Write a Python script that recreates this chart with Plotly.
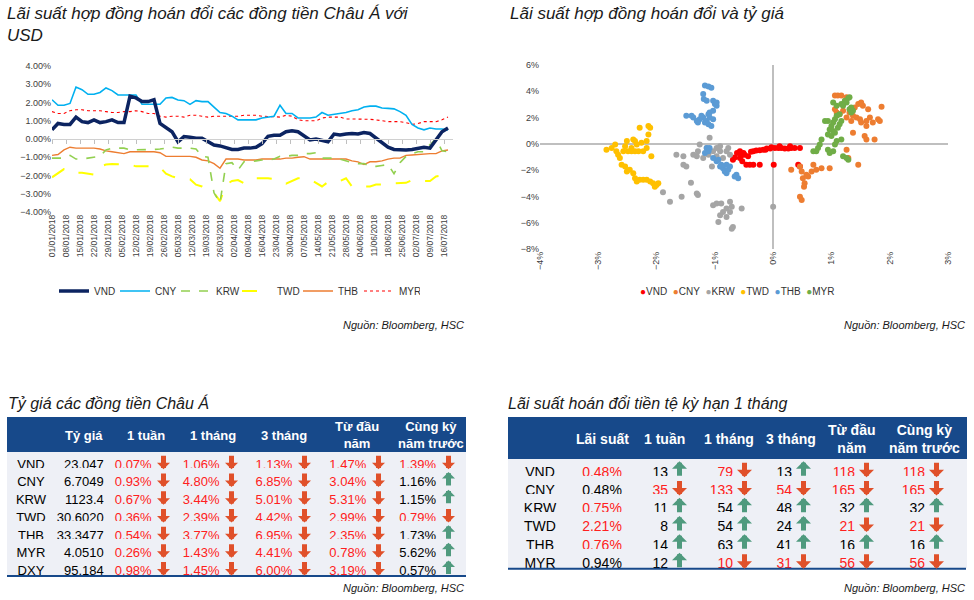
import pandas as pd
import plotly.graph_objects as go

# ---- line chart: swap rates vs USD (%), one value every 3 days from 01/01/2018
dates = pd.date_range("2018-01-01", periods=67, freq="3D")
vnd = [0.5, 0.85, 0.8, 0.8, 1.2, 0.95, 0.9, 1.05, 0.9, 0.95,
       1.05, 0.9, 0.9, 2.35, 2.25, 2.05, 2.05, 2.15, 0.85, 0.6,
       0.4, -0.15, 0.13, 0.1, 0.04, 0.04, -0.15, -0.33, -0.38, -0.5,
       -0.57, -0.57, -0.5, -0.5, -0.45, -0.25, 0.15, 0.2, 0.2, 0.4,
       0.45, 0.4, 0.15, -0.05, 0.0, -0.1, -0.15, 0.27, 0.22, 0.27,
       0.3, 0.27, 0.35, 0.3, 0.05, -0.15, -0.45, -0.57, -0.6, -0.6,
       -0.57, -0.5, -0.45, -0.5, -0.05, 0.4, 0.6]
cny = [2.15, 1.85, 1.85, 1.95, 2.85, 2.7, 2.45, 2.45, 2.55, 2.8,
       2.65, 2.41, 2.41, 2.41, 2.41, 1.9, 1.9, 1.9, 1.9, 2.25,
       2.28, 2.14, 2.1, 1.9, 2.1, 2.05, 2.05, 1.75, 1.45, 1.4,
       1.25, 1.05, 1.05, 1.05, 1.05, 1.15, 1.2, 1.25, 1.85, 1.4,
       1.4, 1.15, 1.15, 1.15, 1.2, 1.45, 1.3, 1.35, 1.4, 1.45,
       1.55, 1.6, 1.75, 1.8, 1.8, 1.7, 1.68, 1.65, 1.5, 1.3,
       0.8, 0.6, 0.5, 0.6, 0.55, 0.55, 0.5]
krw = [-1.05, -1.05, -1.05, -0.9, -1.1, -1.1, -1.05, -0.97, -0.95, -0.6,
       -0.5, -0.5, -0.5, -0.6, -0.6, -0.57, -0.57, -0.57, -0.55, -0.5,
       -0.45, -0.5, -0.5, -0.5, -0.55, -0.95, -1.0, -2.95, -3.5, -1.35,
       -1.3, -1.7, -1.25, -1.25, -1.2, -1.15, -1.15, -1.1, -0.95, -0.95,
       -0.9, -0.9, -0.8, -0.8, -0.75, -1.05, -1.05, -1.05, -1.1, -1.2,
       -1.3, -1.35, -1.35, -1.5, -1.5, -1.45, -1.4, -1.9, -1.3, -0.95,
       -0.8, -0.7, -0.7, -0.3, 0.0, -0.65, -0.7]
twd = [-2.1, -1.85, -1.65, -1.65, -1.85, -1.85, -1.88, -1.95, -1.5, -1.4,
       -1.37, -1.37, -1.37, -1.4, -1.5, -1.5, -1.5, -1.5, -1.55, -1.9,
       -2.05, -2.15, -2.15, -2.2, -2.5, -2.6, -2.75, -2.95, -3.4, -2.5,
       -2.3, -2.25, -2.43, -2.2, -2.15, -2.15, -2.15, -2.2, -2.35, -2.45,
       -2.3, -2.15, -2.15, -2.2, -2.4, -2.6, -2.35, -2.35, -2.3, -2.15,
       -2.6, -2.6, -2.6, -2.6, -2.5, -2.5, -2.5, -2.43, -2.43, -2.4,
       -2.25, -2.25, -2.3, -2.3, -2.05, -2.0, -1.97]
thb = [-0.9, -0.85, -0.6, -0.45, -0.5, -0.5, -0.5, -0.5, -0.55, -0.65,
       -0.7, -0.75, -0.8, -0.7, -0.7, -0.7, -0.7, -0.7, -0.75, -0.95,
       -0.95, -0.95, -0.95, -0.95, -1.0, -1.15, -1.2, -1.35, -1.6, -1.1,
       -1.1, -1.1, -1.15, -1.15, -1.15, -1.1, -1.1, -1.1, -1.1, -1.05,
       -1.05, -1.0, -0.97, -1.1, -1.1, -1.1, -1.1, -1.1, -1.1, -1.1,
       -1.2, -1.25, -1.4, -1.25, -1.25, -1.2, -1.1, -1.05, -1.05, -0.9,
       -0.88, -0.85, -0.8, -0.8, -0.8, -0.65, -0.6]
myr = [1.5, 1.4, 1.4, 1.55, 1.6, 1.6, 1.55, 1.55, 1.55, 1.5,
       1.45, 1.45, 1.5, 1.5, 1.55, 1.5, 1.4, 1.4, 1.25, 1.2,
       1.25, 1.25, 1.2, 1.3, 1.3, 1.25, 1.2, 1.25, 1.25, 1.25,
       1.25, 1.25, 1.3, 1.3, 1.3, 1.25, 1.25, 1.22, 1.2, 1.3,
       1.25, 1.05, 1.0, 1.0, 1.0, 1.15, 1.2, 1.2, 1.2, 1.1,
       1.1, 1.1, 1.08, 1.08, 1.05, 1.0, 0.95, 0.95, 0.95, 0.9,
       0.8, 0.85, 0.95, 0.95, 0.95, 1.05, 1.2]

# ---- scatter: exchange rate change (x, %) vs swap rate (y, %)
vnd_x = [-0.66, -0.69, -0.62, -0.57, -0.51, -0.57, -0.53, -0.46, -0.40, -0.34, -0.49, -0.43,
         -0.34, -0.29, -0.23, -0.17, -0.11, -0.05, 0.03, 0.09, 0.14, 0.20, 0.26, 0.31, 0.37,
         0.46, -0.23, 0.01, 0.43, 0.46, 0.29, 0.11, -0.03, -0.13, -0.38, -0.55]
vnd_y = [-1.03, -1.21, -0.69, -0.56, -0.69, -1.08, -1.33, -1.59, -1.59, -1.59, -0.82, -0.95,
         -0.56, -0.51, -0.49, -0.44, -0.36, -0.36, -0.31, -0.31, -0.31, -0.36, -0.36, -0.31, -0.31,
         -0.31, -1.59, -1.59, -1.59, -1.72, -0.18, -0.18, -0.26, -0.45, -0.60, -0.90]
cny_x = [1.06, 1.11, 1.17, 1.26, 1.09, 1.20, 1.31, 1.40, 1.46, 1.54, 1.51, 1.63, 1.37, 1.43,
         1.49, 1.60, 1.71, 1.83, 1.80, 1.86, 1.60, 1.57, 1.60, 1.74, 1.37, 1.26, 1.29, 1.46,
         1.06, 1.14, 1.26, 1.34, 1.51, 1.66, 0.31, 0.46, 0.49, 0.51, 0.54, 0.53, 0.60, 0.66,
         0.74, 0.83, 0.97, 0.69, 0.46, 0.49, 0.57]
cny_y = [3.67, 3.67, 3.67, 3.54, 2.38, 2.51, 2.38, 2.77, 3.03, 2.90, 3.15, 2.64, 2.13, 2.00,
         1.87, 1.74, 1.62, 1.74, 1.87, 2.82, 1.36, 0.59, 0.33, 0.33, 0.85, -0.44, -1.08, -1.59,
         2.64, 2.26, 2.00, 1.74, 1.62, 2.00, -1.97, -1.72, -2.10, -2.62, -3.00, -3.26, -2.49, -2.10,
         -1.97, -1.85, -1.85, -1.59, -4.03, -4.28, -2.36]
krw_x = [-1.26, -1.14, -1.29, -1.31, -1.20, -1.11, -1.09, -1.03, -0.97, -0.91, -0.86, -0.80,
         -0.77, -0.74, -1.05, -1.49, -1.54, -1.66, -1.54, -1.37, -1.41, -1.31, -1.29, -1.57,
         -1.89, -1.77, -1.03, -0.97, -0.89, -0.74, -0.71, -0.80, -0.91, -0.86, -0.80, -0.69,
         -0.71, -0.94, -0.54, -0.74, 0.00, -0.91, -0.97]
krw_y = [-0.05, -0.31, -0.56, -0.95, -1.08, -0.82, 0.46, -0.56, -0.95, -0.56, -1.08, -0.56,
         -0.31, -0.82, -1.72, -1.72, -1.59, -0.82, -0.95, -0.82, -2.95, -3.77, -3.90, -4.03,
         -3.69, -4.41, -4.67, -4.54, -4.54, -4.41, -4.79, -4.92, -5.44, -5.18, -5.56, -6.33,
         -6.46, -5.95, -4.92, -5.18, -4.79, -0.18, -0.31]
twd_x = [-2.86, -2.77, -2.71, -2.69, -2.66, -2.63, -2.60, -2.57, -2.54, -2.51, -2.49, -2.43,
         -2.40, -2.37, -2.34, -2.31, -2.29, -2.26, -2.23, -2.17, -2.14, -2.11, -2.09, -2.14,
         -2.17, -2.54, -2.51, -2.46, -2.40, -2.37, -2.34, -2.29, -2.23, -2.17, -2.11, -2.06,
         -2.03, -2.00, -1.97, -2.43, -2.37]
twd_y = [-0.44, -0.31, -0.05, -0.56, -0.82, -1.08, -1.59, -0.56, -0.18, 0.21, -0.56, -0.31,
         0.33, 0.21, -0.05, -0.56, 1.23, 0.08, -0.56, -0.31, 1.36, 1.23, -0.95, 0.72,
         0.21, -1.72, -2.10, -1.97, -2.23, -2.62, -2.87, -2.74, -2.74, -2.74, -2.87, -3.00,
         -3.26, -3.13, -3.00, -0.56, -0.56]
thb_x = [-1.17, -1.11, -1.06, -1.20, -1.19, -1.14, -1.03, -1.00, -0.97, -1.03, -1.09, -1.11,
         -1.20, -1.26, -1.31, -1.37, -1.49, -1.40, -1.29, -1.17, -1.11, -1.06, -1.14, -1.23,
         -1.09, -1.03, -0.97, -1.14, -1.11, -1.17, -1.03, -0.97, -0.91, -0.86, -0.83, -0.80,
         -0.77, -0.74, -0.80, -0.89, -0.94, -0.63, -0.60, -0.66, -1.09]
thb_y = [4.44, 4.36, 4.26, 3.79, 3.41, 3.28, 3.28, 3.03, 2.90, 2.51, 2.38, 2.26,
         2.00, 1.87, 1.74, 2.00, 2.13, 2.13, 1.62, 1.62, 1.49, 1.36, 1.74, 2.13,
         2.00, 1.87, 3.15, -0.31, -0.56, -0.69, -1.08, -1.33, -1.72, -1.85, -2.10, -2.23,
         -1.97, -1.72, -1.59, -1.59, -1.21, -2.36, -2.62, -2.49, -0.31]
myr_x = [1.03, 1.09, 1.17, 1.23, 1.29, 1.31, 1.26, 1.20, 1.31, 1.34, 1.14, 1.09, 1.06, 1.03,
         1.00, 0.97, 0.94, 1.00, 1.06, 1.11, 1.14, 1.17, 1.03, 0.94, 0.89, 0.83, 0.80, 0.74,
         0.69, 0.77, 0.94, 0.97, 1.03, 1.09, 1.06, 1.17, 1.20, 1.29, 1.26, 1.37, 1.34]
myr_y = [3.15, 2.90, 3.03, 3.28, 3.49, 3.54, 3.15, 2.90, 2.64, 2.38, 2.26, 2.13, 1.87, 1.62,
         1.36, 1.10, 0.72, 0.59, 0.85, 1.23, 1.49, 1.74, 0.97, 1.74, 1.74, 0.33, -0.05, -0.56,
         -0.56, -0.31, -0.44, -0.69, -0.56, 0.21, -0.05, 0.33, -0.95, -1.21, -1.08, 2.51, 2.77]

# ---- table 1: Asian exchange rates
t1_names = ["VND", "CNY", "KRW", "TWD", "THB", "MYR", "DXY"]
t1_rate = ["23,047", "6.7049", "1123.4", "30.6020", "33.3477", "4.0510", "95.184"]
t1_1w = ["0.07%", "0.93%", "0.67%", "0.36%", "0.54%", "0.26%", "0.98%"]
t1_1m = ["1.06%", "4.80%", "3.44%", "2.39%", "3.77%", "1.43%", "1.45%"]
t1_3m = ["1.13%", "6.85%", "5.01%", "4.42%", "6.95%", "4.41%", "6.00%"]
t1_ytd = ["1.47%", "3.04%", "5.31%", "2.99%", "2.35%", "0.78%", "3.19%"]
t1_yoy = ["1.39%", "1.16%", "1.15%", "0.79%", "1.73%", "5.62%", "0.57%"]
t1_1w_dir = ["d", "d", "d", "d", "d", "d", "d"]
t1_1m_dir = ["d", "d", "d", "d", "d", "d", "d"]
t1_3m_dir = ["d", "d", "d", "d", "d", "d", "d"]
t1_ytd_dir = ["d", "d", "d", "d", "d", "d", "d"]
t1_yoy_dir = ["d", "u", "u", "d", "u", "u", "u"]
t1_headers = ["Tỷ giá", "1 tuần", "1 tháng", "3 tháng", "Từ đầu<br>năm", "Cùng kỳ<br>năm trước"]

# ---- table 2: 1-month currency swap rates (changes in bp)
t2_names = ["VND", "CNY", "KRW", "TWD", "THB", "MYR"]
t2_rate = ["0.48%", "0.48%", "0.75%", "2.21%", "0.76%", "0.94%"]
t2_rate_red = [True, False, True, True, True, False]
t2_1w = ["13", "35", "11", "8", "14", "12"]
t2_1m = ["79", "133", "54", "54", "63", "10"]
t2_3m = ["13", "54", "48", "24", "41", "31"]
t2_ytd = ["118", "165", "32", "21", "16", "56"]
t2_yoy = ["118", "165", "32", "21", "16", "56"]
t2_1w_dir = ["u", "d", "u", "u", "u", "u"]
t2_1m_dir = ["d", "d", "u", "u", "u", "d"]
t2_3m_dir = ["u", "d", "u", "u", "u", "d"]
t2_ytd_dir = ["d", "d", "u", "d", "u", "d"]
t2_yoy_dir = ["d", "d", "u", "d", "u", "d"]
t2_headers = ["Lãi suất", "1 tuần", "1 tháng", "3 tháng", "Từ đầu<br>năm", "Cùng kỳ<br>năm trước"]

FONT = "Arial, Liberation Sans, sans-serif"
NAVY = "#17498a"
CELL_BG = "#eef0f6"
RED_TXT = "#ff2020"
ARR_DN = "#e0502a"
ARR_UP = "#4f9a7e"
W, H = 974, 600
TEXT_DY = 3   # table cell text sits a little below the row centre


def px(x):
    return x / W


def py(y):
    return 1 - y / H


def txt_colors(dirs):
    return [RED_TXT if d == "d" else "#000000" for d in dirs]


def build_table(fig, y0, edges, names, first, first_colors, first_align,
                pairs, headers, hdr_h, row_h, fsize, arr_len, arr_w):
    # edges: column boundaries in px (value / arrow column pairs after the first two)
    x0, x1 = edges[0], edges[-1]
    body_end = y0 + hdr_h + row_h * len(names)
    widths = [b - a for a, b in zip(edges[:-1], edges[1:])]
    values = [names, first]
    colors = ["#000000", first_colors]
    aligns = ["center", first_align]
    for vals, dirs in pairs:
        values += [vals, [""] * len(vals)]
        colors += [txt_colors(dirs), "#000000"]
        aligns += ["right", "left"]
    fig.add_trace(go.Table(
        domain=dict(x=[px(x0), px(x1)], y=[py(body_end + 4), py(y0)]),
        columnwidth=widths,
        header=dict(values=[""] * len(widths), fill_color=NAVY, line_color=NAVY, height=hdr_h),
        cells=dict(values=values, fill_color=CELL_BG, line_color=CELL_BG,
                   font=dict(family=FONT, size=fsize, color=colors), align=aligns, height=row_h),
    ))
    # header labels centred over their column (or value/arrow column pair)
    centres = [(edges[1] + edges[2]) / 2]
    for k in range(len(pairs)):
        centres.append((edges[2 + 2 * k] + edges[4 + 2 * k]) / 2 + 1)
    for c, h in zip(centres, headers):
        fig.add_annotation(text="<b>%s</b>" % h, x=px(c), y=py(y0 + hdr_h / 2 + 1), xref="paper",
                           yref="paper", showarrow=False, xanchor="center", yanchor="middle",
                           font=dict(family=FONT, size=fsize, color="white"))
    # block arrows just right of each value
    shaft = 5.0
    for k, (vals, dirs) in enumerate(pairs):
        cx = edges[3 + 2 * k] + 3.5
        for r, d in enumerate(dirs):
            cy = y0 + hdr_h + row_h * (r + 0.5) + TEXT_DY - 1
            down = d == "d"
            tip = cy + arr_len / 2 if down else cy - arr_len / 2
            fig.add_annotation(text="", x=px(cx), y=py(tip), xref="paper", yref="paper",
                               showarrow=True, ax=0, ay=-arr_len if down else arr_len,
                               arrowhead=1, arrowwidth=shaft, arrowsize=arr_w / (6 * shaft),
                               arrowcolor=ARR_DN if down else ARR_UP)
    fig.add_shape(type="line", xref="paper", yref="paper", x0=px(x0), x1=px(x1),
                  y0=py(body_end + 1), y1=py(body_end + 1), line=dict(color=NAVY, width=2))


fig = go.Figure()

# line chart traces
lines = [
    ("VND", vnd, dict(color="#0c2461", width=3.5)),
    ("CNY", cny, dict(color="#00b0f0", width=1.6)),
    ("KRW", krw, dict(color="#92d050", width=1.6, dash="dash")),
    ("TWD", twd, dict(color="#ffff00", width=2, dash="longdash")),
    ("THB", thb, dict(color="#ed7d31", width=1.4)),
    ("MYR", myr, dict(color="#ff0000", width=1.1, dash="dot")),
]
for i, (name, vals, ln) in list(enumerate(lines))[::-1]:
    fig.add_trace(go.Scatter(x=dates, y=vals, mode="lines", name=name, line=ln,
                             xaxis="x", yaxis="y", legendrank=i))
# carrier for the zero-crossing category axis
fig.add_trace(go.Scatter(x=[dates[0]], y=[None], xaxis="x3", yaxis="y",
                         showlegend=False, hoverinfo="skip"))

# scatter traces
pts = [
    ("VND", vnd_x, vnd_y, "#ff0000"),
    ("CNY", cny_x, cny_y, "#ed7d31"),
    ("KRW", krw_x, krw_y, "#a5a5a5"),
    ("TWD", twd_x, twd_y, "#ffc000"),
    ("THB", thb_x, thb_y, "#5b9bd5"),
    ("MYR", myr_x, myr_y, "#70ad47"),
]
for name, xs, ys, c in pts:
    fig.add_trace(go.Scatter(x=xs, y=ys, mode="markers", name=name,
                             marker=dict(color=c, size=6), xaxis="x2", yaxis="y2",
                             showlegend=False))

# tables
build_table(fig, 417,
            [7, 55, 112, 160, 178, 228, 246, 301, 319, 375, 393, 445, 466],
            t1_names, t1_rate, "#000000", "right",
            [(t1_1w, t1_1w_dir), (t1_1m, t1_1m_dir), (t1_3m, t1_3m_dir),
             (t1_ytd, t1_ytd_dir), (t1_yoy, t1_yoy_dir)],
            t1_headers, 34, 17.7, 13, 15, 13)
build_table(fig, 417,
            [508, 572, 632, 676, 695, 741, 760, 800, 820, 863, 881, 933, 966],
            t2_names, t2_rate, [RED_TXT if r else "#000000" for r in t2_rate_red], "center",
            [(t2_1w, t2_1w_dir), (t2_1m, t2_1m_dir), (t2_3m, t2_3m_dir),
             (t2_ytd, t2_ytd_dir), (t2_yoy, t2_yoy_dir)],
            t2_headers, 41, 18.3, 14, 16, 15)

ax_font = dict(family=FONT, size=9, color="#404040")
week = 7 * 86400000
fig.update_layout(
    width=W, height=H, margin=dict(l=0, r=0, t=0, b=0, autoexpand=False),
    paper_bgcolor="white", plot_bgcolor="white", font=dict(family=FONT),
    xaxis=dict(domain=[px(52), px(453)], type="date", range=["2018-01-01", "2018-07-20 12:00"],
               tick0="2018-01-01", dtick=week, tickformat="%d/%m/%Y", tickangle=-90,
               showgrid=False, showline=False, ticks="", tickfont=dict(family=FONT, size=8.5, color="#404040"),
               anchor="y"),
    xaxis3=dict(overlaying="x", anchor="free", position=py(139), type="date",
                range=["2018-01-01", "2018-07-20 12:00"], tick0="2018-01-01", dtick=week,
                showticklabels=False, ticks="outside", ticklen=4, tickcolor="#bfbfbf",
                showline=True, linecolor="#d0d0d0", showgrid=False),
    yaxis=dict(domain=[py(212), py(66)], range=[-4, 4], dtick=1, tickformat=".2f",
               ticksuffix="%", showgrid=False, zeroline=False, showline=False, tickfont=ax_font,
               anchor="x"),
    xaxis2=dict(domain=[px(540), px(948)], range=[-4, 3], dtick=1, ticksuffix="%", tickangle=-90,
                showgrid=False, zeroline=True, zerolinecolor="#bfbfbf", zerolinewidth=2,
                showline=False, tickfont=dict(family=FONT, size=9, color="#404040"), anchor="y2"),
    yaxis2=dict(domain=[py(249), py(65)], range=[-8, 6], dtick=2, ticksuffix="%",
                showgrid=False, zeroline=True, zerolinecolor="#bfbfbf", zerolinewidth=2,
                showline=False, tickfont=dict(family=FONT, size=9, color="#404040"), anchor="x2"),
    legend=dict(orientation="h", x=px(237), xanchor="center", y=py(291), yanchor="middle",
                font=dict(family=FONT, size=10, color="#333"), traceorder="normal",
                itemwidth=30, entrywidth=16, bgcolor="rgba(0,0,0,0)"),
    showlegend=True,
)

legend2 = "&nbsp;&nbsp;".join("<span style='color:%s'>\u25cf</span>%s" % (c, n) for n, _, _, c in pts)

notes = [
    ("Lãi suất hợp đồng hoán đổi các đồng tiền Châu Á với<br>USD", 5, 2, "left", "top", 17),
    ("Lãi suất hợp đồng hoán đổi và tỷ giá", 508, 2, "left", "top", 17),
    ("Tỷ giá các đồng tiền Châu Á", 6, 403, "left", "middle", 16),
    ("Lãi suất hoán đổi tiền tệ kỳ hạn 1 tháng", 506, 403, "left", "middle", 16),
    ("Nguồn: Bloomberg, HSC", 466, 325, "right", "middle", 11),
    ("Nguồn: Bloomberg, HSC", 967, 325, "right", "middle", 11),
    ("Nguồn: Bloomberg, HSC", 466, 588, "right", "middle", 11),
    ("Nguồn: Bloomberg, HSC", 967, 588, "right", "middle", 11),
]
for t, x, y, xa, ya, s in notes:
    fig.add_annotation(text="<i>%s</i>" % t, x=px(x), y=py(y), xref="paper", yref="paper",
                       xanchor=xa, yanchor=ya, showarrow=False, align="left",
                       font=dict(family=FONT, size=s, color="#1a1a1a"))
fig.add_annotation(text=legend2, x=px(737), y=py(291), xref="paper", yref="paper",
                   xanchor="center", yanchor="middle", showarrow=False,
                   font=dict(family=FONT, size=10, color="#333"))

# the page's default body margin would shift the figure by 8 px
fig.write_html("out.html", config={"displayModeBar": False},
               post_script="document.body.style.margin='0';")
